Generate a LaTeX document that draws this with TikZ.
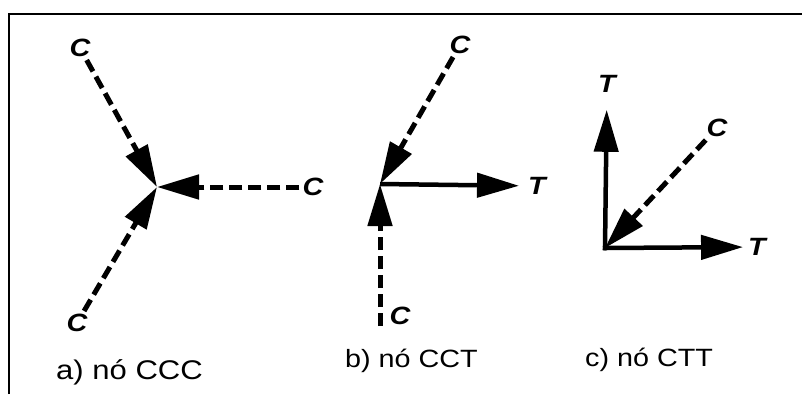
\documentclass[tikz,border=0pt]{standalone}
\usepackage{fontspec}
\setmainfont{Liberation Sans}[FakeStretch=1.15]
\usetikzlibrary{arrows.meta}
\begin{document}
\begin{tikzpicture}[x=1pt,y=-1pt,
  tip/.style={-{Triangle[length=42pt,width=24pt]}},
  comp/.style={tip, line width=5pt, dash pattern=on 13pt off 6pt},
  tens/.style={tip, line width=4.5pt},
  lbl/.style={font=\fontsize{25}{25}\selectfont\bfseries\itshape, inner sep=3pt},
  capt/.style={font=\fontsize{25}{25}\selectfont, anchor=base west, inner sep=0pt},
  frame/.style={line width=2pt}]
\useasboundingbox (0,0) rectangle (802,394);
% open frame: top and left edges only
\draw[frame] (9,394) -- (9,14) -- (802,14);

% a) node with three compressions
\coordinate (a0) at (157,187);
\node[lbl] (a1) at (80,48) {C};
\node[lbl] (a2) at (313,187) {C};
\node[lbl] (a3) at (77,323) {C};
\draw[comp] (a1) -- (a0);
\draw[comp] (a2) -- (a0);
\draw[comp] (a3) -- (a0);
\node[capt, font=\fontsize{27}{27}\selectfont] (ca) at (56,379) {a) nó CCC};

% b) node with two compressions and one tension
\coordinate (b0) at (380,184);
\node[lbl] (b1) at (460,45) {C};
\node[lbl] (b2) at (537,186) {T};
\coordinate (b3) at (380,326);
\node[lbl] (b3l) at (400,316) {C};
\draw[comp] (b1) -- (b0);
\draw[tens, shorten >=6pt] (b0) -- (b2);
\draw[comp] (b3) -- (b0);
\node[capt] (cb) at (345,367) {b) nó CCT};

% c) node with one compression and two tensions
\coordinate (c0) at (605,248);
\node[lbl] (c1) at (607,84) {T};
\node[lbl] (c2) at (757,247) {T};
\node[lbl] (c3) at (717,128) {C};
\draw[tens, shorten <=-2.25pt, shorten >=14pt] (c0) -- (c1);
\draw[tens, shorten <=-2.25pt, shorten >=2pt] (c0) -- (c2);
\draw[comp] (c3) -- (c0);
\node[capt] (cc) at (585,366) {c) nó CTT};
\end{tikzpicture}
\end{document}
